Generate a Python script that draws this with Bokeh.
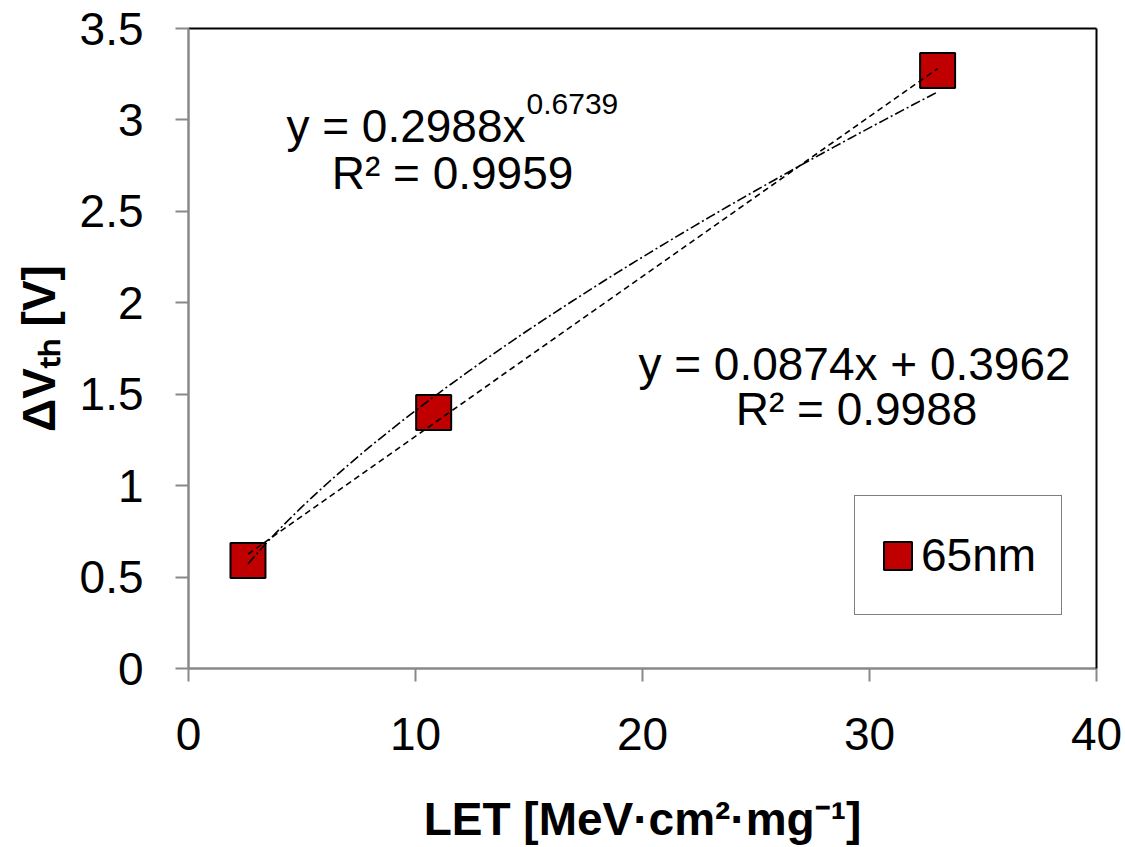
import numpy as np
from bokeh.plotting import figure
from bokeh.models import (Range1d, LinearAxis, FixedTicker, Label, Legend,
                          LegendItem, ColumnDataSource)
from bokeh.embed import file_html
from bokeh.resources import INLINE

# ---------------- data ----------------
let_values = [2.62, 10.8, 33.0]          # LET [MeV·cm²·mg⁻¹]
dvth_values = [0.59, 1.40, 3.27]         # ΔVth [V]
series_name = "65nm"

x_ticks = [0, 10, 20, 30, 40]
x_tick_labels = ["0", "10", "20", "30", "40"]
y_ticks = [0, 0.5, 1, 1.5, 2, 2.5, 3, 3.5]
y_tick_labels = ["0", "0.5", "1", "1.5", "2", "2.5", "3", "3.5"]

# trendline coefficients (as printed on the chart)
lin_slope = 0.0874
lin_intercept = 0.3962
lin_r2 = "0.9988"
pow_coef = 0.2988
pow_exp = 0.6739
pow_r2 = "0.9959"

x_title = "LET [MeV·cm²·mg⁻¹]"
y_title = "ΔVₜₕ [V]"

# ---------------- styling ----------------
FONT = "Liberation Sans"
AXIS_GRAY = "#898989"
RED = "#C00000"

p = figure(frame_width=908, frame_height=640,
           min_border_left=188, min_border_right=29,
           min_border_top=28, min_border_bottom=179,
           x_range=Range1d(0, 40), y_range=Range1d(0, 3.5),
           output_backend="svg", toolbar_location=None,
           background_fill_color="white", border_fill_color="white")
p.outline_line_color = None
p.xgrid.visible = False
p.ygrid.visible = False

for ax, ticks, labels, standoff, title, tstand in (
        (p.xaxis[0], x_ticks, x_tick_labels, 36, x_title, 40),
        (p.yaxis[0], y_ticks, y_tick_labels, 32, y_title, 12)):
    ax.ticker = FixedTicker(ticks=ticks)
    ax.major_label_overrides = {t: l for t, l in zip(ticks, labels)}
    ax.axis_line_color = AXIS_GRAY
    ax.axis_line_width = 2.5
    ax.major_tick_line_color = AXIS_GRAY
    ax.major_tick_line_width = 2
    ax.major_tick_out = 13
    ax.major_tick_in = 0
    ax.minor_tick_line_color = None
    ax.major_label_text_font = FONT
    ax.major_label_text_font_size = "46px"
    ax.major_label_text_color = "black"
    ax.major_label_standoff = standoff
    ax.axis_label = title
    ax.axis_label_text_font = FONT
    ax.axis_label_text_font_size = "46px"
    ax.axis_label_text_font_style = "bold"
    ax.axis_label_text_color = "black"
    ax.axis_label_standoff = tstand

for side in ("above", "right"):
    a = LinearAxis(ticker=FixedTicker(ticks=[]), axis_line_color="black",
                   axis_line_width=2, major_tick_line_color=None,
                   minor_tick_line_color=None,
                   major_label_text_font_size="0px")
    p.add_layout(a, side)

# ---------------- markers ----------------
src = ColumnDataSource(dict(x=let_values, y=dvth_values))
sq = p.rect("x", "y", width=35, height=35, width_units="screen",
            height_units="screen", source=src, fill_color=RED,
            line_color="black", line_width=2)

# ---------------- trendlines ----------------
x_lo, x_hi = min(let_values), max(let_values)
lin_x = np.array([x_lo, x_hi])
lin_y = lin_slope * lin_x + lin_intercept
pow_x = np.linspace(x_lo, x_hi, 120)
pow_y = pow_coef * pow_x ** pow_exp
p.line(lin_x, lin_y, line_color="black", line_width=1.6, line_dash="6 4")
p.line(pow_x, pow_y, line_color="black", line_width=1.6, line_dash="10 3 2 3")

# ---------------- legend ----------------
legend = Legend(items=[LegendItem(label=series_name, renderers=[sq])],
                location=(666, 53), margin=0, padding=25, spacing=0,
                glyph_width=35, glyph_height=35, label_standoff=6,
                label_height=68,
                label_text_font=FONT, label_text_font_size="46px",
                label_text_color="black",
                border_line_color="black", border_line_width=1.5,
                background_fill_color="white", background_fill_alpha=1)
p.add_layout(legend)

# ---------------- text annotations ----------------
def lab(text, x, y, size="46px", align="left"):
    p.add_layout(Label(x=x, y=y, x_units="screen", y_units="screen",
                       text=text, text_font=FONT, text_font_size=size,
                       text_align=align, text_baseline="alphabetic",
                       text_color="black"))

# power fit equation
lab(f"y = {pow_coef}x", 337, 543, align="right")
lab(f"{pow_exp}", 338, 565, size="30px")
lab(f"R² = {pow_r2}", 264, 496, align="center")
# linear fit equation
lab(f"y = {lin_slope}x + {lin_intercept}", 666, 305, align="center")
lab(f"R² = {lin_r2}", 668, 260, align="center")

open("out.html", "w").write(file_html(p, INLINE))
